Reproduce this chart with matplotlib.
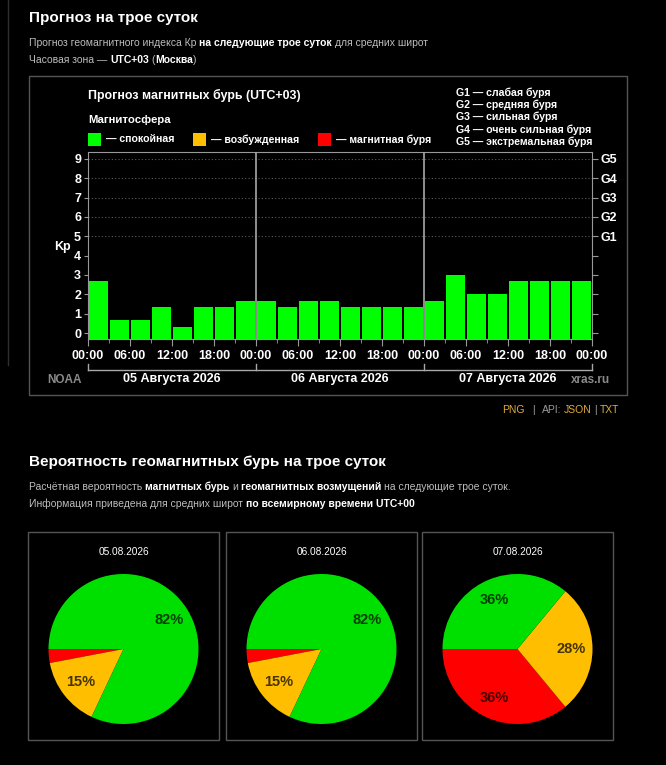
import matplotlib
matplotlib.use("Agg")
import matplotlib.pyplot as plt
from matplotlib.transforms import Affine2D, blended_transform_factory
from matplotlib.patches import Rectangle
from matplotlib.lines import Line2D
import numpy as np

W, H = 666, 765
FONT = "Liberation Sans"
plt.rcParams['font.family'] = [FONT, 'DejaVu Sans']

# Kp forecast, 3-hour steps, 3 days
kp_day1 = [2.67, 0.67, 0.67, 1.33, 0.33, 1.33, 1.33, 1.67]
kp_day2 = [1.67, 1.33, 1.67, 1.67, 1.33, 1.33, 1.33, 1.33]
kp_day3 = [1.67, 3.00, 2.00, 2.00, 2.67, 2.67, 2.67, 2.67]
day_labels = ["05 Августа 2026", "06 Августа 2026", "07 Августа 2026"]
hour_labels = ["00:00", "06:00", "12:00", "18:00"] * 3 + ["00:00"]
g_labels = ["G1", "G2", "G3", "G4", "G5"]
g_legend = ["G1 — слабая буря", "G2 — средняя буря", "G3 — сильная буря",
            "G4 — очень сильная буря", "G5 — экстремальная буря"]

# storm probabilities: storm, disturbed, quiet (%)
pie_dates = ["05.08.2026", "06.08.2026", "07.08.2026"]
p_storm = [3, 3, 36]
p_active = [15, 15, 28]
p_quiet = [82, 82, 36]

GREEN = "#00ff00"
PIE_GREEN = "#00e000"
YELLOW = "#ffbf00"
RED = "#ff0000"
GREY_TXT = "#bdbdbd"
GOLD = "#e0ab3c"
SMALL = 7.5

fig = plt.figure(figsize=(W / 100, H / 100), dpi=100, facecolor="black")
pix = Affine2D().scale(1 / W, -1 / H).translate(0, 1) + fig.transFigure
renderer = fig.canvas.get_renderer()


def txt(x, y, s, size, color="white", weight="normal", ha="left", **kw):
    return fig.text(x, y, s, transform=pix, fontsize=size, color=color,
                    fontweight=weight, ha=ha, va="center", **kw)


def rich(x, y, parts, size):
    # parts: (text, bold); a trailing space gets added as a gap
    probe1 = txt(0, 0, "x x", size)
    probe2 = txt(0, 0, "xx", size)
    sp = probe1.get_window_extent(renderer).width - probe2.get_window_extent(renderer).width
    probe1.remove()
    probe2.remove()
    for s, bold in parts:
        gap = s.endswith(" ")
        s = s.rstrip(" ")
        t = txt(x, y, s, size, color="white" if bold else GREY_TXT,
                weight="bold" if bold else "normal")
        x += t.get_window_extent(renderer).width + (sp if gap else 0)


def line(xs, ys, color, lw=1.0, transform=pix):
    fig.add_artist(Line2D(xs, ys, color=color, lw=lw, transform=transform))


def box(x0, y0, x1, y1, color="#555555"):
    fig.add_artist(Rectangle((x0, y0), x1 - x0, y1 - y0, transform=pix,
                             fill=False, edgecolor=color, lw=1.0))


# page left rule
line([8, 8], [0, 365], "#2e2e2e")

# ---- section 1 ----
txt(29, 18, "Прогноз на трое суток", 11, weight="bold")
rich(29, 43, [("Прогноз геомагнитного индекса Кр ", False),
              ("на следующие трое суток ", True),
              ("для средних широт", False)], SMALL)
rich(29, 60, [("Часовая зона — ", False), ("UTC+03 ", True), ("(", False),
              ("Москва", True), (")", False)], SMALL)

box(29, 76, 627, 395)

txt(88, 95, "Прогноз магнитных бурь (UTC+03)", 8.9, weight="bold")
txt(88, 120, "Магнитосфера", 8.2, weight="bold")
leg = [(88, GREEN, "— спокойная"), (193, YELLOW, "— возбужденная"),
       (318, RED, "— магнитная буря")]
for lx, c, s in leg:
    fig.add_artist(Rectangle((lx, 133), 13, 13, transform=pix, color=c, lw=0))
    txt(lx + 18, 139.5, s, 7.6, weight="bold")
for i, s in enumerate(g_legend):
    txt(456, 92.5 + i * 12.3, s, 7.6, weight="bold")

kp = kp_day1 + kp_day2 + kp_day3
x = np.arange(len(kp)) * 3 + 1.5
ymin = -0.31

ax = fig.add_axes([88 / W, 1 - 339 / H, 504 / W, 187 / H])
ax.set_facecolor("black")
ax.set_xlim(0, 72)
ax.set_ylim(ymin, 9.36)
cols = [GREEN if v < 4 else (YELLOW if v < 5 else RED) for v in kp]
ax.bar(x, np.array(kp) - ymin, bottom=ymin, width=2.7, color=cols, lw=0, zorder=3)
for g in range(5, 10):
    ax.axhline(g, ls=(0, (1, 2)), color="#5a5a5a", lw=0.8, zorder=1)
for d in (24, 48):
    ax.axvline(d, color="#a8a8a8", lw=1.2, zorder=4)

ax.set_xticks(np.arange(0, 73, 6))
ax.set_xticklabels(hour_labels)
ax.set_xticks(np.arange(3, 72, 6), minor=True)
ax.set_yticks(range(10))
for sp in ax.spines.values():
    sp.set_color("#999999")
ax.tick_params(axis="x", which="major", length=5, color="#999999", pad=3,
               labelcolor="white", labelsize=9)
ax.tick_params(axis="x", which="minor", length=3, color="#999999")
ax.tick_params(axis="y", length=3, color="#999999", pad=2,
               labelcolor="white", labelsize=9)
for t in ax.get_xticklabels() + ax.get_yticklabels():
    t.set_fontweight("bold")

ax2 = ax.twinx()
ax2.set_ylim(ax.get_ylim())
ax2.set_yticks(range(10))
ax2.set_yticklabels([""] * 5 + g_labels)
ax2.tick_params(axis="y", length=4, color="#999999", pad=2,
                labelcolor="white", labelsize=9)
for t in ax2.get_yticklabels():
    t.set_fontweight("bold")
for sp in ax2.spines.values():
    sp.set_visible(False)

txt(62, 247, "Kp", 9, weight="bold", ha="center")

# day bracket under the axis
blend = blended_transform_factory(ax.transData, pix)
line([0, 72], [370, 370], "#a8a8a8", transform=blend)
for d in (0, 24, 48, 72):
    line([d, d], [364, 370.5], "#a8a8a8", transform=blend)
for i, s in enumerate(day_labels):
    fig.text(12 + 24 * i, 379, s, transform=blend, fontsize=9, color="white",
             fontweight="bold", ha="center", va="center")
txt(47, 380, "NOAA", 8.5, color="#8a8a8a", weight="bold")
txt(610, 380, "xras.ru", 8.5, color="#8a8a8a", weight="bold", ha="right")

# links: text, colour, gap after (px)
parts = [("PNG", GOLD, 8), ("|", "#9a9a9a", 7), ("API:", "#9a9a9a", 2),
         ("JSON", GOLD, 3), ("|", "#9a9a9a", 3), ("TXT", GOLD, 0)]
xx = 502
for s, c, g in parts:
    t = txt(xx, 410, s, SMALL, color=c)
    xx += t.get_window_extent(renderer).width + g

# ---- section 2 ----
txt(29, 462, "Вероятность геомагнитных бурь на трое суток", 11, weight="bold")
rich(29, 487, [("Расчётная вероятность ", False), ("магнитных бурь ", True),
               ("и ", False), ("геомагнитных возмущений ", True),
               ("на следующие трое суток.", False)], SMALL)
rich(29, 504, [("Информация приведена для средних широт ", False),
               ("по всемирному времени UTC+00", True)], SMALL)


def pct(v):
    return "%d%%" % round(v) if v >= 5 else ""


box_x = [28, 226, 422]
for i in range(3):
    bx = box_x[i]
    box(bx, 532, bx + 191, 740)
    cx = bx + 95.5
    txt(cx, 552, pie_dates[i], 7.3, ha="center")
    pa = fig.add_axes([(cx - 75) / W, 1 - (649 + 75) / H, 150 / W, 150 / H])
    wedges, texts, autos = pa.pie(
        [p_storm[i], p_active[i], p_quiet[i]], colors=[RED, YELLOW, PIE_GREEN],
        startangle=180, counterclock=True, autopct=pct, pctdistance=0.72,
        wedgeprops=dict(lw=0),
        textprops=dict(fontsize=10.5, fontweight="bold", color=(0, 0, 0, 0.72)))
    pa.set_xlim(-1, 1)
    pa.set_ylim(-1, 1)
    pa.set_facecolor("black")

fig.savefig("out.png", dpi=100, facecolor="black")
